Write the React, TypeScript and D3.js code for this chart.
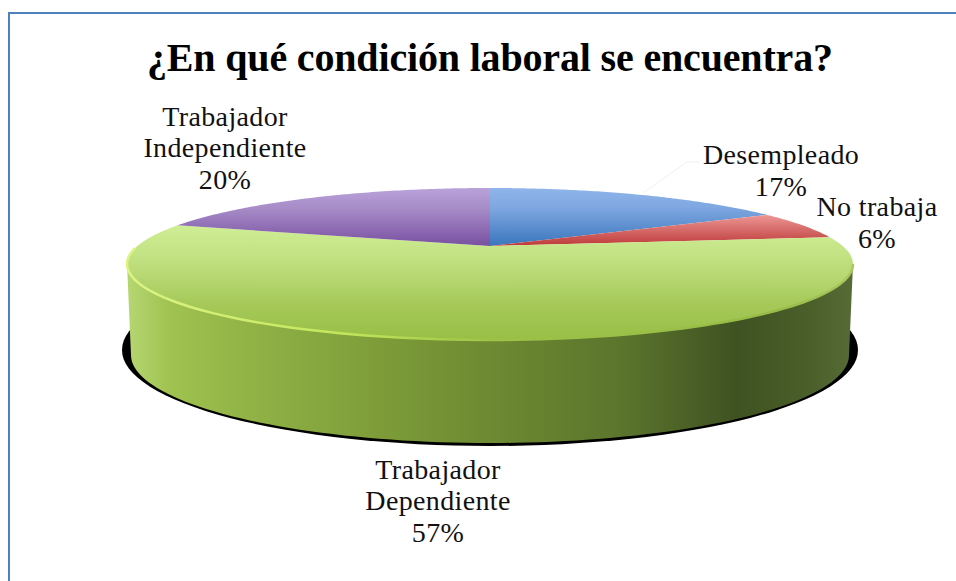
import React from "react";
import * as d3 from "d3";

const categories = ["Desempleado", "No trabaja", "Trabajador Dependiente", "Trabajador Independiente"];
const values = [17, 6, 57, 20];
const labelLines = [["Desempleado", "17%"], ["No trabaja", "6%"], ["Trabajador", "Dependiente", "57%"], ["Trabajador", "Independiente", "20%"]];
const labelCentres: [number, number][] = [[781, 171], [877, 223], [438, 501], [225, 148]];
const title = "¿En qué condición laboral se encuentra?";
const fills = ["blueTop", "redTop", "greenTop", "purpleTop"];

const W = 956, H = 581;
const cx = 490, apexY = 246, a = 352.7, b = 13.5, p = -0.2368;
const proj = (t: number): [number, number] => {
  const u = Math.sin(t), v = -Math.cos(t), den = 1 + p * v;
  return [cx + (a * u) / den, (b * v + apexY) / den];
};
const wedge = (t0: number, t1: number) => {
  const n = 90;
  const pts = d3.range(n + 1).map((i) => proj(t0 + ((t1 - t0) * i) / n));
  return "M" + cx + "," + apexY + "L" + pts.map((q) => q.join(",")).join("L") + "Z";
};
const arcs = d3.pie<number>().sort(null)(values);

const top = { cy: 264, rx: 363, ry: 76 };
const bot = { cy: 355, rx: 359, ry: 88 };
const ellArc = (e: typeof top, from: number, to: number) => d3.range(from, to + 1, 2).map((d) => {
  const r = (d * Math.PI) / 180;
  return [cx + e.rx * Math.cos(r), e.cy + e.ry * Math.sin(r)] as [number, number];
});
const topFront = ellArc(top, 0, 180);
const botFront = ellArc(bot, 0, 180);
const rimPts = ellArc(top, 0, 192);
const line = d3.line();
const sidePath = line(topFront)! + "L" + botFront.slice().reverse().map((q) => q.join(",")).join("L") + "Z";

export default function App() {
  return (
    <svg width={W} height={H} style={{ position: "absolute", left: 0, top: 0, background: "#fff" }}>
      <defs>
        <linearGradient id="blueTop" gradientUnits="userSpaceOnUse" x1="0" x2="0" y1="188" y2="246">
          <stop offset="0" stopColor="#8fb5ea" /><stop offset="0.35" stopColor="#7ea6e0" /><stop offset="1" stopColor="#3a76bd" />
        </linearGradient>
        <linearGradient id="redTop" gradientUnits="userSpaceOnUse" x1="0" x2="0" y1="214" y2="246">
          <stop offset="0" stopColor="#ee9a98" /><stop offset="1" stopColor="#bd3a38" />
        </linearGradient>
        <linearGradient id="purpleTop" gradientUnits="userSpaceOnUse" x1="0" x2="0" y1="188" y2="246">
          <stop offset="0" stopColor="#b9a2da" /><stop offset="0.35" stopColor="#a78cc8" /><stop offset="1" stopColor="#7850a0" />
        </linearGradient>
        <linearGradient id="greenTop" gradientUnits="userSpaceOnUse" x1="0" x2="0" y1="226" y2="340">
          <stop offset="0" stopColor="#cfee94" /><stop offset="0.3" stopColor="#c0e080" /><stop offset="0.7" stopColor="#a5c858" /><stop offset="1" stopColor="#98bf45" />
        </linearGradient>
        <linearGradient id="side" gradientUnits="userSpaceOnUse" x1="127" x2="853" y1="0" y2="0">
          <stop offset="0" stopColor="#b6d672" /><stop offset="0.06" stopColor="#a0c250" /><stop offset="0.18" stopColor="#8fb145" />
          <stop offset="0.36" stopColor="#7c9b38" /><stop offset="0.5" stopColor="#6e8a32" /><stop offset="0.68" stopColor="#5b752d" />
          <stop offset="0.84" stopColor="#3f5222" /><stop offset="0.94" stopColor="#4a5f2a" /><stop offset="1" stopColor="#566b36" />
        </linearGradient>
        <linearGradient id="rim" gradientUnits="userSpaceOnUse" x1="127" x2="853" y1="0" y2="0">
          <stop offset="0" stopColor="#dcf485" /><stop offset="0.3" stopColor="#c2e65c" /><stop offset="0.5" stopColor="#9ec247" /><stop offset="0.9" stopColor="#97bc46" /><stop offset="1" stopColor="#a8c860" />
        </linearGradient>
        <filter id="soft" x="-5%" y="-20%" width="110%" height="140%">
          <feGaussianBlur stdDeviation="0.7" />
        </filter>
      </defs>
      <rect x={9} y={13} width={980} height={600} fill="#fff" stroke="#4f81bd" strokeWidth={2} />
      <text x={490} y={71} textAnchor="middle" fontFamily="'Liberation Serif'" fontWeight="bold" fontSize={40} textLength={686} fill="#000">{title}</text>
      <ellipse cx={490} cy={350} rx={368} ry={96} fill="#000" />
      <path d={sidePath} fill="url(#side)" />
      {arcs.map((d, i) => (
        <path key={categories[i]} d={wedge(d.startAngle, d.endAngle)} fill={`url(#${fills[i]})`} />
      ))}
      <path d={line(rimPts)!} fill="none" stroke="url(#rim)" strokeWidth={2.5} filter="url(#soft)" />
      <path d="M643,193L687,162L700,162" fill="none" stroke="#f0f0f0" strokeWidth={1} />
      {labelLines.map((ls, i) => (
        <text key={i} textAnchor="middle" fontFamily="'Liberation Serif'" fontSize={28} letterSpacing={0.35} fill="#111">
          {ls.map((s, j) => (
            <tspan key={j} x={labelCentres[i][0]} y={labelCentres[i][1] + (j - (ls.length - 1) / 2) * 31.5 + 9}>{s}</tspan>
          ))}
        </text>
      ))}
    </svg>
  );
}
